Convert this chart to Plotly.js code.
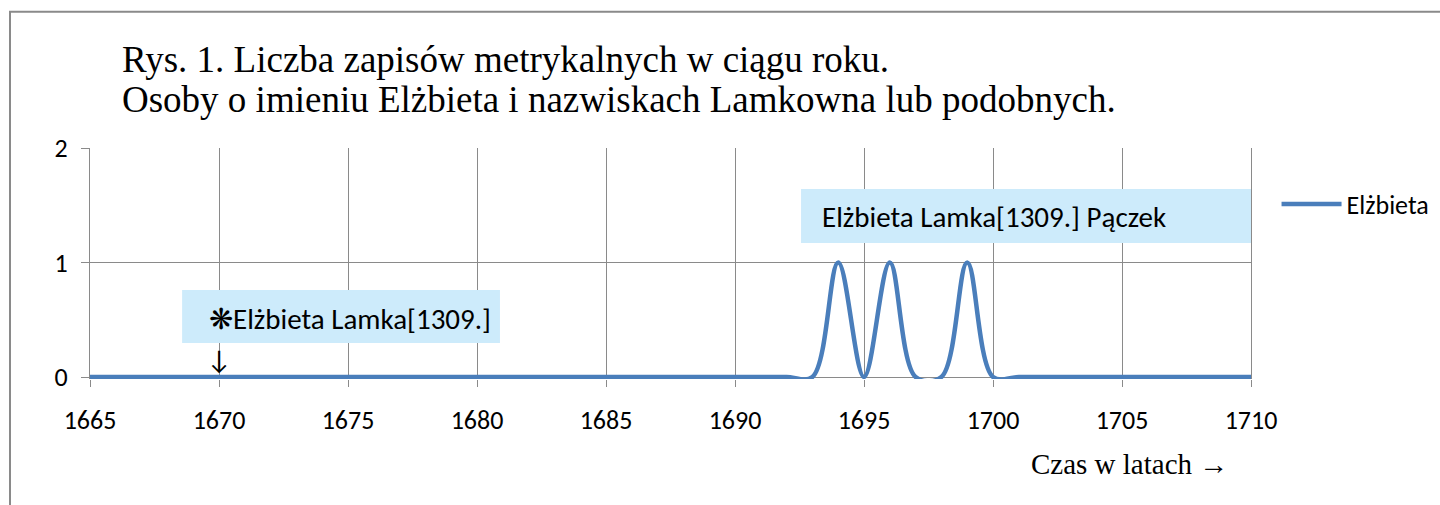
<!DOCTYPE html>
<html>
<head>
<meta charset="utf-8">
<script src="https://cdn.plot.ly/plotly-3.0.1.min.js"></script>
<style>
  html, body { margin: 0; padding: 0; background: #fff; }
  #chart { width: 1440px; height: 505px; }
</style>
</head>
<body>
<div id="chart"></div>
<script>
// ---- data ----
const years = [1665, 1666, 1667, 1668, 1669, 1670, 1671, 1672, 1673, 1674,
               1675, 1676, 1677, 1678, 1679, 1680, 1681, 1682, 1683, 1684,
               1685, 1686, 1687, 1688, 1689, 1690, 1691, 1692, 1693, 1694,
               1695, 1696, 1697, 1698, 1699, 1700, 1701, 1702, 1703, 1704,
               1705, 1706, 1707, 1708, 1709, 1710];
const counts = [0, 0, 0, 0, 0, 0, 0, 0, 0, 0,
                0, 0, 0, 0, 0, 0, 0, 0, 0, 0,
                0, 0, 0, 0, 0, 0, 0, 0, 0, 1,
                0, 1, 0, 0, 1, 0, 0, 0, 0, 0,
                0, 0, 0, 0, 0, 0];
const seriesName = 'Elżbieta';
const xTicks = [1665, 1670, 1675, 1680, 1685, 1690, 1695, 1700, 1705, 1710];
const yTicks = [0, 1, 2];
const titleLine1 = 'Rys. 1. Liczba zapisów metrykalnych w ciągu roku.';
const titleLine2 = 'Osoby o imieniu Elżbieta i nazwiskach Lamkowna lub podobnych.';
const xAxisLabel = 'Czas w latach →';
const birthNote = '❋Elżbieta Lamka[1309.]';
const birthYear = 1670;
const marriageNote = 'Elżbieta Lamka[1309.] Pączek';

const sans = 'Carlito, Calibri, Lato, sans-serif';
const serif = '"Liberation Serif", "Times New Roman", serif';
const gridCol = '#8a8a8a';

const trace = {
  x: years, y: counts, type: 'scatter', mode: 'lines', name: seriesName,
  line: { color: '#4a7ebb', width: 4.5, shape: 'spline', smoothing: 1 },
  hoverinfo: 'skip'
};

// plot area: 148px (top) .. ~379px (bottom); 0 sits at 377px
const layout = {
  width: 1440, height: 505,
  margin: { l: 90, r: 189, t: 148, b: 126, autoexpand: false },
  paper_bgcolor: '#fff', plot_bgcolor: '#fff',
  showlegend: true,
  legend: {
    x: 1.022, y: 0.757, xanchor: 'left', yanchor: 'middle',
    font: { family: sans, size: 26, color: '#000' },
    bgcolor: 'rgba(0,0,0,0)', itemwidth: 60
  },
  xaxis: {
    range: [1665, 1710], tickvals: xTicks, ticktext: xTicks.map(String),
    showgrid: true, gridcolor: gridCol, gridwidth: 1,
    showline: false, zeroline: false, automargin: false,
    ticks: 'outside', ticklen: 7, tickcolor: gridCol, tickwidth: 1,
    ticklabelstandoff: 11,
    tickfont: { family: sans, size: 26, color: '#000' },
    fixedrange: true
  },
  yaxis: {
    range: [-0.0175, 2], tickvals: yTicks, ticktext: yTicks.map(String),
    showgrid: true, gridcolor: gridCol, gridwidth: 1,
    showline: true, linecolor: gridCol, linewidth: 1, mirror: true,
    zeroline: true, zerolinecolor: gridCol, zerolinewidth: 1, automargin: false,
    ticks: 'outside', ticklen: 8, tickcolor: gridCol, tickwidth: 1,
    ticklabelstandoff: 8,
    tickfont: { family: sans, size: 26, color: '#000' },
    fixedrange: true
  },
  shapes: [
    { type: 'rect', xref: 'paper', yref: 'paper', x0: -0.0689, x1: 1.3, y0: -0.7, y1: 1.59,
      line: { color: '#8a8a8a', width: 2 }, fillcolor: 'rgba(0,0,0,0)', layer: 'below' },
    { type: 'rect', xref: 'x', yref: 'y', x0: 1668.57, x1: 1680.89, y0: 0.297, y1: 0.76,
      line: { width: 0 }, fillcolor: '#cdebfb', layer: 'above' },
    { type: 'rect', xref: 'x', yref: 'y', x0: 1692.56, x1: 1710.05, y0: 1.17, y1: 1.642,
      line: { width: 0 }, fillcolor: '#cdebfb', layer: 'above' }
  ],
  annotations: [
    { text: titleLine1, xref: 'paper', yref: 'paper', x: 0.0262, y: 1.382,
      xanchor: 'left', yanchor: 'middle', showarrow: false,
      font: { family: serif, size: 37, color: '#000' } },
    { text: titleLine2, xref: 'paper', yref: 'paper', x: 0.0262, y: 1.208,
      xanchor: 'left', yanchor: 'middle', showarrow: false,
      font: { family: serif, size: 37, color: '#000' } },
    { text: xAxisLabel, xref: 'paper', yref: 'paper', x: 0.809, y: -0.37,
      xanchor: 'left', yanchor: 'middle', showarrow: false,
      font: { family: serif, size: 29, color: '#000' } },
    { text: birthNote, xref: 'x', yref: 'y', x: 1669.55, y: 0.51,
      xanchor: 'left', yanchor: 'middle', showarrow: false,
      font: { family: sans, size: 29, color: '#000' } },
    { text: '↓', xref: 'x', yref: 'y', x: birthYear, y: 0.155,
      xanchor: 'center', yanchor: 'middle', showarrow: false,
      font: { family: sans, size: 27, color: '#000' } },
    { text: marriageNote, xref: 'x', yref: 'y', x: 1693.3, y: 1.4,
      xanchor: 'left', yanchor: 'middle', showarrow: false,
      font: { family: sans, size: 29, color: '#000' } }
  ]
};

Plotly.newPlot('chart', [trace], layout, { staticPlot: true, displayModeBar: false });
</script>
</body>
</html>
